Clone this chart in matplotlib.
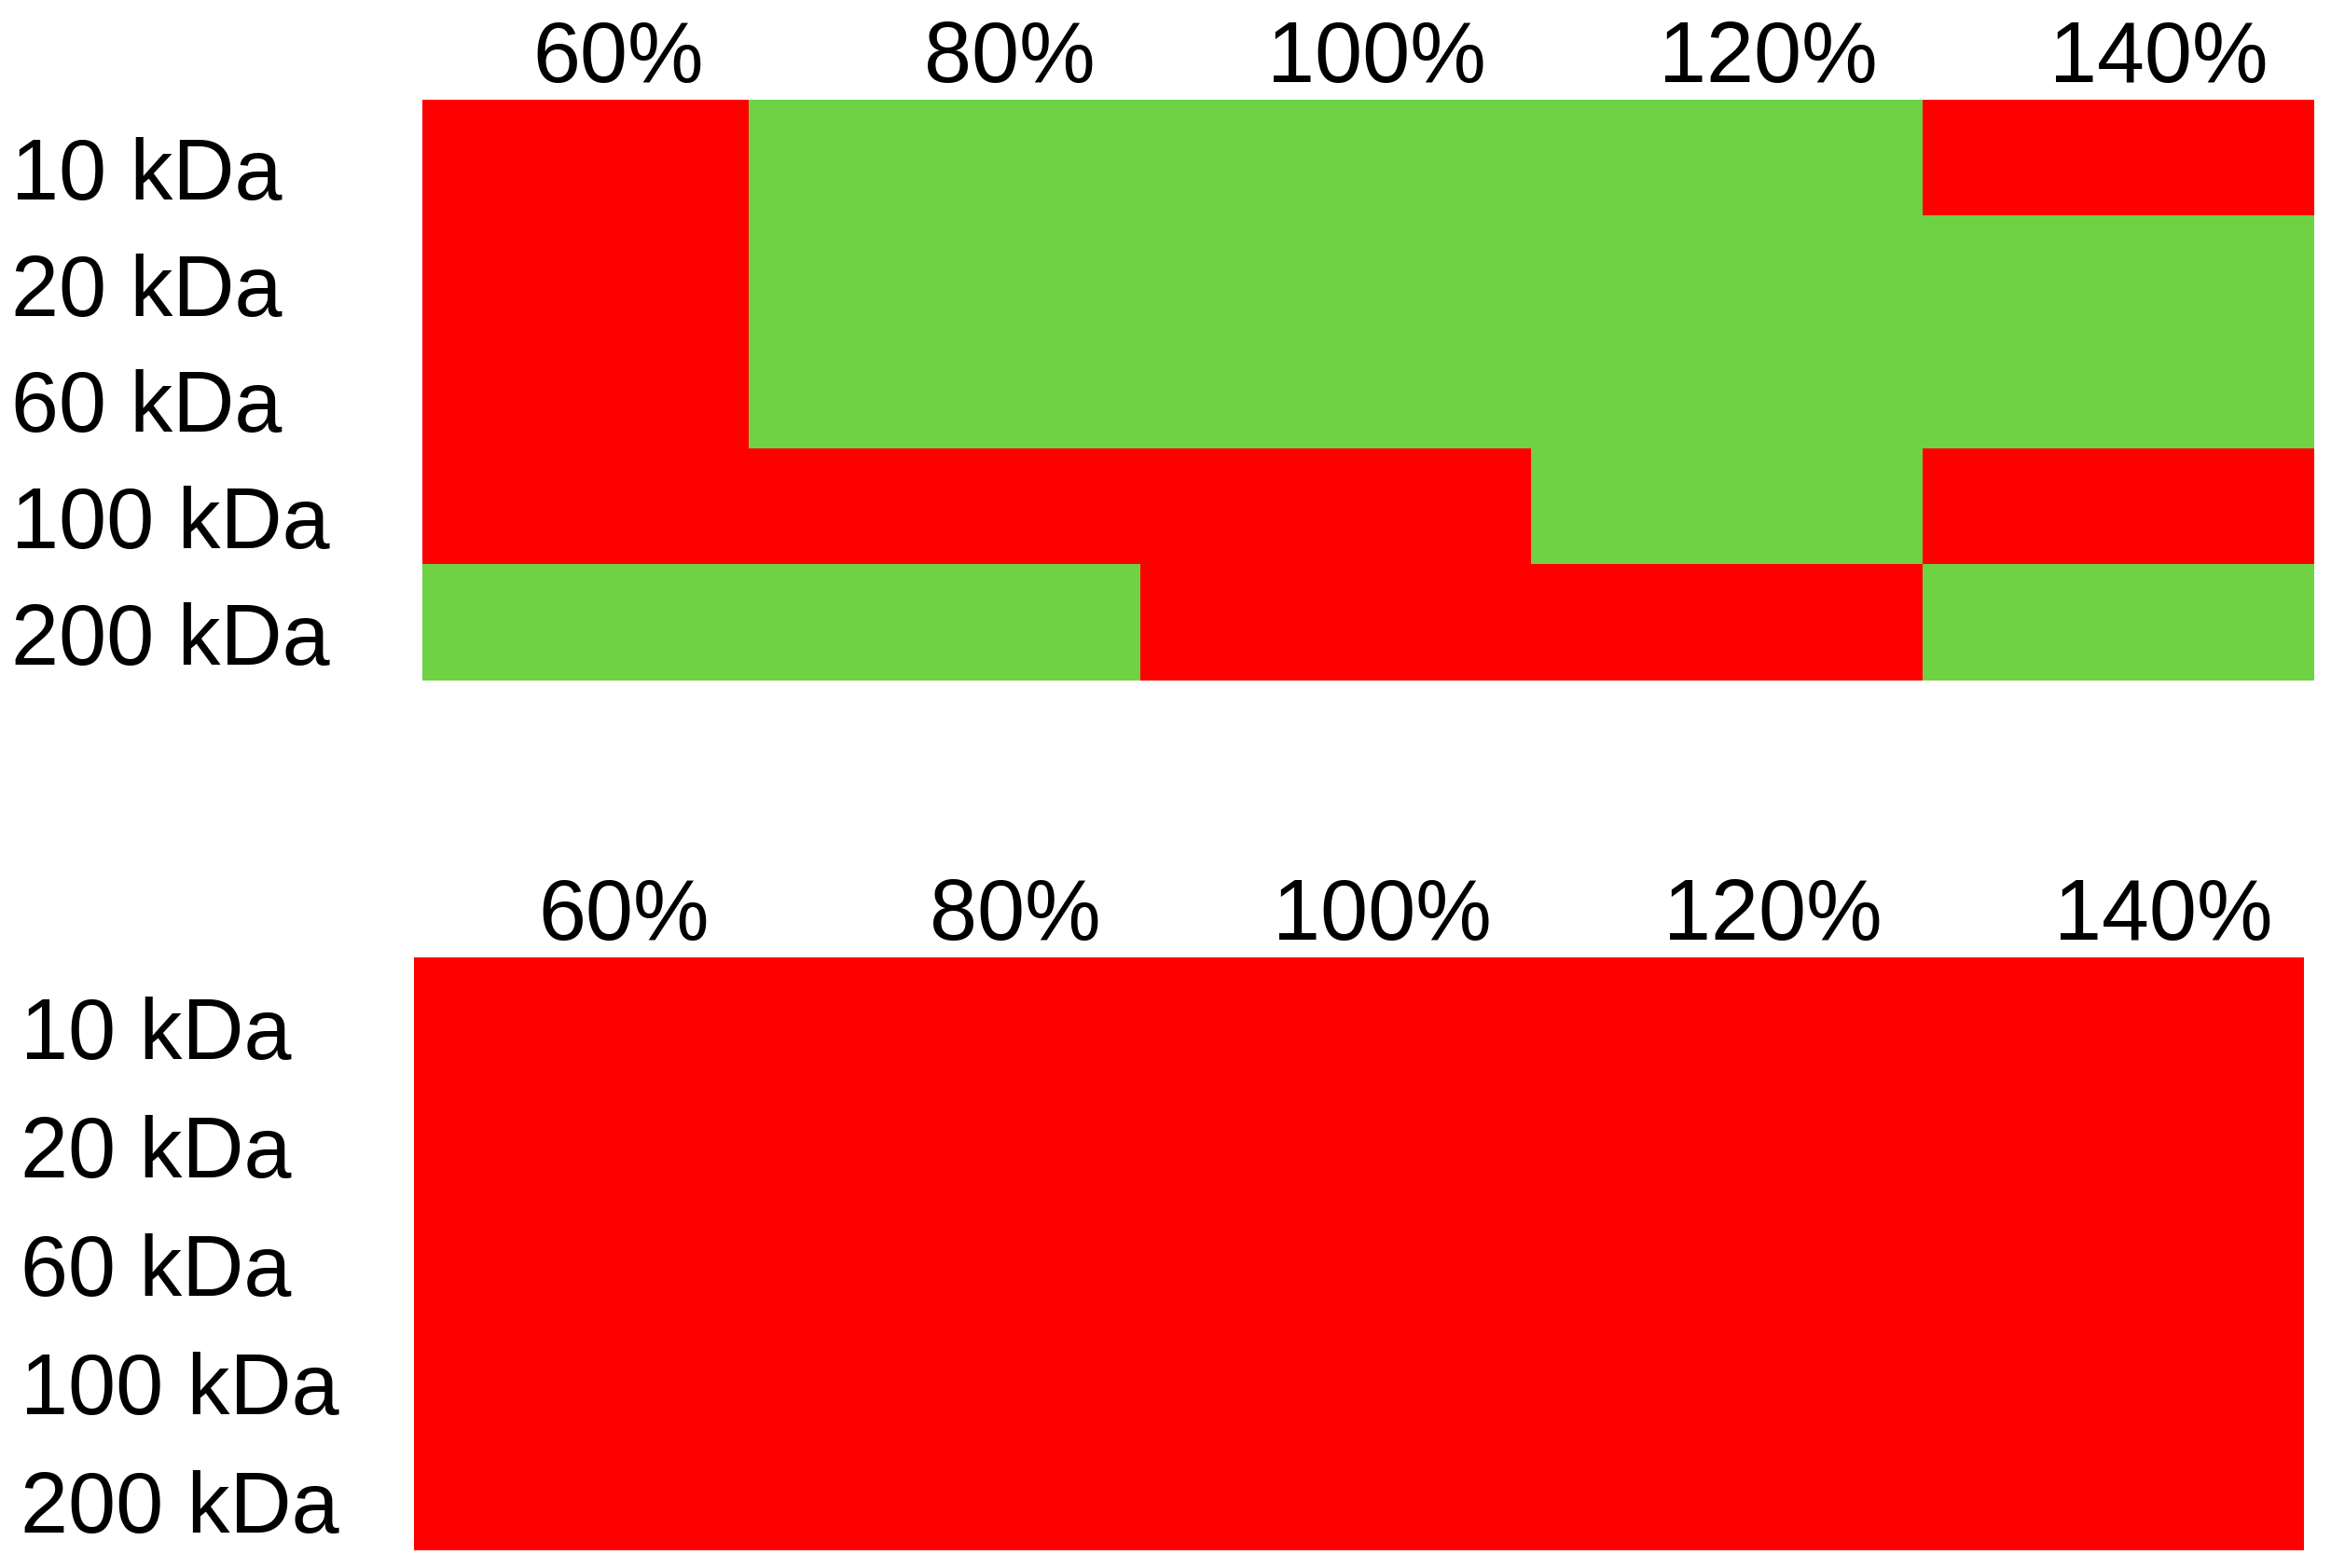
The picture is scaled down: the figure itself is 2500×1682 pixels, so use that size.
#!/usr/bin/env python3
"""Pass/fail grid: molecular weight vs. fill level, two conditions."""

import numpy as np
import matplotlib
matplotlib.use("Agg")
import matplotlib.pyplot as plt
import matplotlib.transforms as mtransforms
from matplotlib.colors import ListedColormap

plt.rcParams["font.family"] = ["Liberation Sans", "DejaVu Sans"]

# ── Data ──
fill_levels = ["60%", "80%", "100%", "120%", "140%"]
mol_weights = ["10 kDa", "20 kDa", "60 kDa", "100 kDa", "200 kDa"]

# 1 = pass (green), 0 = fail (red)
grid_top = np.array([
    [0, 1, 1, 1, 0],
    [0, 1, 1, 1, 1],
    [0, 1, 1, 1, 1],
    [0, 0, 0, 1, 0],
    [1, 1, 0, 0, 1],
])
grid_bottom = np.array([
    [0, 0, 0, 0, 0],
    [0, 0, 0, 0, 0],
    [0, 0, 0, 0, 0],
    [0, 0, 0, 0, 0],
    [0, 0, 0, 0, 0],
])

RED = "#FF0000"
GREEN = "#6ED244"
cmap = ListedColormap([RED, GREEN])

W, H = 2500, 1682
DPI = 100
fig = plt.figure(figsize=(W / DPI, H / DPI), dpi=DPI)
fig.patch.set_facecolor("white")

FS = 66


def px_axes(left, top, right, bottom):
    return fig.add_axes([left / W, 1 - bottom / H, (right - left) / W, (bottom - top) / H])


def draw_panel(ax, grid, label_x_px, col_label_off):
    ax.imshow(grid, cmap=cmap, vmin=0, vmax=1, aspect="auto",
              extent=(-0.5, len(fill_levels) - 0.5, len(mol_weights) - 0.5, -0.5),
              interpolation="nearest")
    # first column is partly cut off on the left
    ax.set_xlim(-0.337, len(fill_levels) - 0.5)
    ax.set_ylim(len(mol_weights) - 0.5, -0.5)
    ax.set_axis_off()

    # column labels above the grid
    top_tr = mtransforms.offset_copy(ax.get_xaxis_transform(), fig=fig,
                                     x=0, y=19, units="dots")
    for i, lab in enumerate(fill_levels):
        ax.text(i + col_label_off, 1.0, lab, transform=top_tr, ha="right",
                va="baseline", fontsize=FS, color="black")

    # row labels at the left edge of the figure
    row_tr = mtransforms.blended_transform_factory(fig.transFigure, ax.transData)
    row_tr = mtransforms.offset_copy(row_tr, fig=fig, x=0, y=-45, units="dots")
    for j, lab in enumerate(mol_weights):
        ax.text(label_x_px / W, j, lab, transform=row_tr, ha="left",
                va="baseline", fontsize=FS, color="black")


ax_top = px_axes(453, 107, 2482, 730)
draw_panel(ax_top, grid_top, 12, 0.383)

ax_bot = px_axes(444, 1027, 2471, 1663)
draw_panel(ax_bot, grid_bottom, 22, 0.42)

fig.savefig("out.png", dpi=DPI, facecolor="white")
